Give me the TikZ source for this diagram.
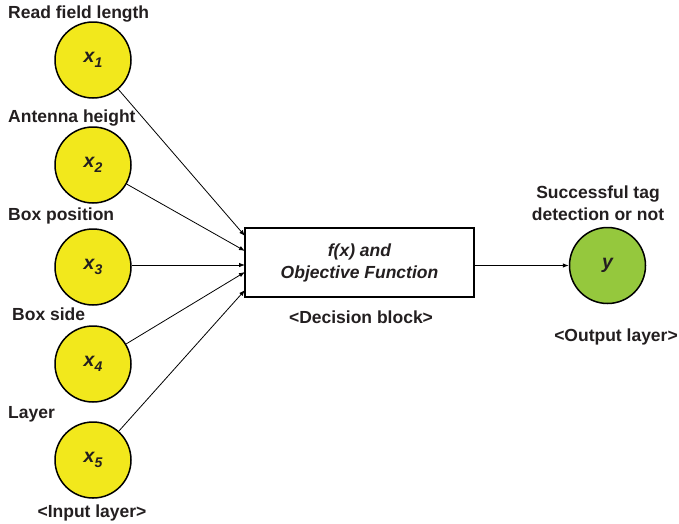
\documentclass[tikz,border=0pt]{standalone}
\usepackage{fontspec}
\setmainfont{Liberation Sans}
\usetikzlibrary{arrows.meta}
\definecolor{ink}{HTML}{231F20}
\definecolor{inyellow}{HTML}{F2E81C}
\definecolor{outgreen}{HTML}{95C83D}
\tikzset{
  lbl/.style={font=\fontsize{17.5}{22}\selectfont\bfseries, text=ink, inner sep=0pt},
  neuron/.style={circle, draw=black, line width=1.5pt, minimum size=76pt, inner sep=0pt,
                 font=\fontsize{19.5}{22}\selectfont\bfseries\itshape, text=ink},
  inneuron/.style={neuron, fill=inyellow},
  outneuron/.style={neuron, fill=outgreen},
  block/.style={draw=black, line width=1.4pt, fill=white, minimum width=229pt, minimum height=69pt,
                inner sep=0pt, align=center, font=\fontsize{17.5}{22}\selectfont\bfseries\itshape, text=ink},
  conn/.style={line width=0.8pt, -{Latex[length=6pt,width=4.5pt]}}
}
\newcommand{\xsub}[1]{x\raisebox{-0.45ex}{\fontsize{14}{14}\selectfont #1}}
\begin{document}
\begin{tikzpicture}[x=1pt,y=-1pt]
\useasboundingbox (0,0) rectangle (679,523);
% input neurons
\node[inneuron] (x1) at (93,60) {\xsub{1}};
\node[inneuron] (x2) at (93,165) {\xsub{2}};
\node[inneuron] (x3) at (93,267) {\xsub{3}};
\node[inneuron] (x4) at (93,364) {\xsub{4}};
\node[inneuron] (x5) at (93,460) {\xsub{5}};
% labels
\node[lbl, anchor=west] (l1) at (8,14) {Read field length};
\node[lbl, anchor=west] (l2) at (8,118) {Antenna height};
\node[lbl, anchor=west] (l3) at (8,216) {Box position};
\node[lbl, anchor=west] (l4) at (12,314) {Box side};
\node[lbl, anchor=west] (l5) at (8,414) {Layer};
\node[lbl] (inl) at (92,513) {<Input layer>};
% decision block
\node[block] (blk) at (359.5,262.5) {f(x) and\\Objective Function};
\node[lbl] (dbl) at (361,317) {<Decision block>};
% output
\node[outneuron] (y) at (607.5,265.5) {y};
\node[lbl, align=center] (ol) at (598,203) {Successful tag\\detection or not};
\node[lbl] (oll) at (616,337) {<Output layer>};
% connectors
\coordinate (e1) at (245,236);
\coordinate (e2) at (245,251);
\coordinate (e3) at (245,265);
\coordinate (e4) at (245,272);
\coordinate (e5) at (245,290);
\draw[conn] (x1) -- (e1);
\draw[conn] (x2) -- (e2);
\draw[conn] (x3.east |- e3) -- (e3);
\draw[conn] (x4) -- (e4);
\draw[conn] (x5) -- (e5);
\draw[conn] (blk.east |- y) -- (y.west);
\end{tikzpicture}
\end{document}
